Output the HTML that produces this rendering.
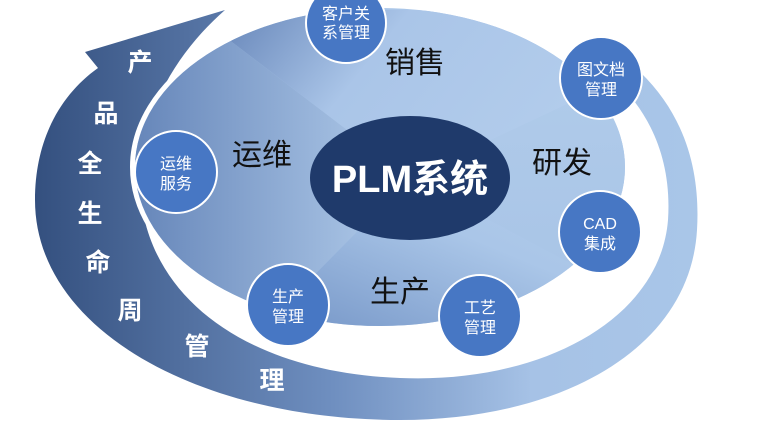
<!DOCTYPE html>
<html><head><meta charset="utf-8"><style>
html,body{margin:0;padding:0;background:#fff;}
svg{display:block;}
text{font-family:"Liberation Sans","Noto Sans CJK SC",sans-serif;}
</style></head><body>
<svg width="768" height="426" viewBox="0 0 768 426">
<defs>
<linearGradient id="ring" x1="0" y1="0" x2="1" y2="0">
<stop offset="0" stop-color="#34507f"/><stop offset="0.45" stop-color="#6f8fc0"/><stop offset="0.75" stop-color="#a6c2e6"/><stop offset="1" stop-color="#a9c6e8"/></linearGradient>
<linearGradient id="sl" x1="0" y1="0" x2="1" y2="0"><stop offset="0" stop-color="#5c7db3"/><stop offset="1" stop-color="#b4ceec"/></linearGradient>
<linearGradient id="st" x1="0" y1="0" x2="1" y2="0.3"><stop offset="0" stop-color="#5a7ab0"/><stop offset="0.45" stop-color="#aac5e8"/><stop offset="1" stop-color="#b3cdec"/></linearGradient>
<linearGradient id="sr" x1="0" y1="0" x2="0" y2="1"><stop offset="0" stop-color="#b0cbea"/><stop offset="1" stop-color="#a8c4e6"/></linearGradient>
<linearGradient id="sb" x1="0" y1="1" x2="1" y2="0"><stop offset="0" stop-color="#6f90c3"/><stop offset="0.6" stop-color="#aac6e8"/><stop offset="1" stop-color="#b3cdec"/></linearGradient>
<clipPath id="ec"><ellipse cx="380" cy="167" rx="245" ry="159"/></clipPath>
</defs>
<path d="M85,52 L225,10 C185,45 145,100 140,170 C135,290 240,372 400,378 C540,384 660,320 668,220 C672,160 650,115 620,85 L640,72 C690,120 700,180 697,230 C690,350 560,420 400,420 C200,420 35,330 35,200 C35,140 60,95 98,68 Z" fill="url(#ring)"/>
<ellipse cx="380" cy="167" rx="245" ry="159" fill="#fff" stroke="#fff" stroke-width="10"/>
<g clip-path="url(#ec)">
<rect x="130" y="0" width="500" height="330" fill="#aac6e8"/>
<polygon points="410,178 190,10 100,10 100,340 250,340" fill="url(#sl)"/>
<polygon points="410,178 190,10 640,10 640,70" fill="url(#st)"/>
<polygon points="410,178 640,70 640,300" fill="url(#sr)"/>
<polygon points="410,178 640,300 640,340 250,340" fill="url(#sb)"/>
</g>
<ellipse cx="410" cy="178" rx="100" ry="62" fill="#1f3a6b"/>
<text x="410" y="192" text-anchor="middle" font-size="38" font-weight="bold" fill="#fff">PLM系统</text>
<g font-size="30" fill="#111" text-anchor="middle">
<text x="415" y="73">销售</text><text x="562" y="173">研发</text><text x="262" y="165">运维</text><text x="400" y="302">生产</text>
</g>
<g fill="#4777c4" stroke="#fff" stroke-width="2">
<circle cx="346" cy="23" r="40"/><circle cx="601" cy="78" r="41"/><circle cx="600" cy="232" r="41"/><circle cx="480" cy="316" r="41"/><circle cx="288" cy="305" r="41"/><circle cx="176" cy="172" r="41"/>
</g>
<g font-size="16" fill="#fff" text-anchor="middle">
<text x="346" y="19">客户关</text><text x="346" y="38">系管理</text>
<text x="601" y="75">图文档</text><text x="601" y="95">管理</text>
<text x="600" y="229">CAD</text><text x="600" y="249">集成</text>
<text x="480" y="313">工艺</text><text x="480" y="333">管理</text>
<text x="288" y="302">生产</text><text x="288" y="322">管理</text>
<text x="176" y="169">运维</text><text x="176" y="189">服务</text>
</g>
<g font-size="25" font-weight="bold" fill="#fff" text-anchor="middle">
<text x="140" y="71">产</text><text x="106" y="122">品</text><text x="90" y="172">全</text><text x="90" y="222">生</text><text x="98" y="271">命</text><text x="130" y="319">周</text><text x="197" y="355">管</text><text x="272" y="389">理</text>
</g>
</svg>
</body></html>
